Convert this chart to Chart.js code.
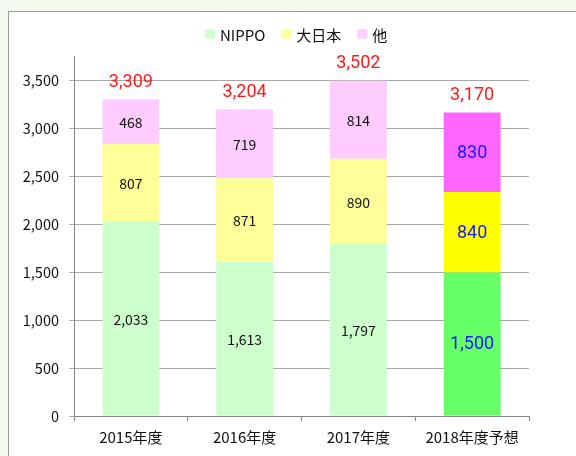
<!DOCTYPE html>
<html>
<head>
<meta charset="utf-8">
<script src="https://cdn.jsdelivr.net/npm/chart.js@4.4.1/dist/chart.umd.min.js"></script>
<style>
html,body{margin:0;padding:0;background:#fff;}
#wrap{width:576px;height:456px;position:relative;}
canvas{display:block;}
</style>
</head>
<body>
<div id="wrap"><canvas id="c" width="576" height="456"></canvas></div>
<script>
const categories = ["2015年度", "2016年度", "2017年度", "2018年度予想"];
const seriesNames = ["NIPPO", "大日本", "他"];
const nippo = [2033, 1613, 1797, 1500];
const dainippon = [807, 871, 890, 840];
const others = [468, 719, 814, 830];
const totals = [3309, 3204, 3502, 3170];
const yTicks = [0, 500, 1000, 1500, 2000, 2500, 3000, 3500];

const baseColors = ["#CCFFCC", "#FFFF99", "#FFCCFF"];
const forecastColors = ["#66FF66", "#FFFF00", "#FF66FF"];
const seriesValues = [nippo, dainippon, others];

const FONT = "'Noto Sans CJK JP', 'Noto Sans', sans-serif";

const datasets = seriesValues.map((vals, i) => ({
  label: seriesNames[i],
  data: vals,
  backgroundColor: vals.map((v, j) => j === categories.length - 1 ? forecastColors[i] : baseColors[i]),
  borderWidth: 0,
  barPercentage: 0.5,
  categoryPercentage: 1.0
}));

const bgPlugin = {
  id: 'bg',
  beforeDraw(chart) {
    const ctx = chart.ctx;
    ctx.save();
    ctx.fillStyle = '#F4F9EF';
    ctx.fillRect(0, 0, 576, 456);
    ctx.fillStyle = '#FFFFFF';
    ctx.fillRect(9, 12, 576, 456);
    ctx.strokeStyle = '#9A9A9A';
    ctx.lineWidth = 1;
    ctx.beginPath();
    ctx.moveTo(8.5, 456);
    ctx.lineTo(8.5, 11.5);
    ctx.lineTo(576, 11.5);
    ctx.stroke();
    ctx.restore();
  }
};

const labelPlugin = {
  id: 'labels',
  afterDatasetsDraw(chart) {
    const ctx = chart.ctx;
    const last = categories.length - 1;
    ctx.save();
    ctx.textAlign = 'center';
    ctx.textBaseline = 'middle';
    chart.data.datasets.forEach((ds, di) => {
      const meta = chart.getDatasetMeta(di);
      meta.data.forEach((bar, j) => {
        const v = ds.data[j];
        const cy = (bar.y + bar.base) / 2;
        if (j === last) {
          ctx.fillStyle = '#1A1AFF';
          ctx.font = "18px Roboto, sans-serif";
        } else {
          ctx.fillStyle = '#111111';
          ctx.font = "14px " + FONT;
        }
        ctx.fillText(v.toLocaleString('en-US'), bar.x, cy + 1);
      });
    });
    // totals
    const yScale = chart.scales.y;
    const meta0 = chart.getDatasetMeta(0);
    categories.forEach((c, j) => {
      const stackTop = nippo[j] + dainippon[j] + others[j];
      const y = yScale.getPixelForValue(stackTop) - 17;
      ctx.fillStyle = '#FF1A1A';
      ctx.font = "18px Roboto, sans-serif";
      ctx.fillText(totals[j].toLocaleString('en-US'), meta0.data[j].x, y);
    });
    // legend
    ctx.textAlign = 'left';
    ctx.font = "15px " + FONT;
    let x = 205;
    const ly = 34;
    seriesNames.forEach((n, i) => {
      ctx.fillStyle = baseColors[i];
      ctx.fillRect(x, ly - 4.5, 10, 9);
      ctx.fillStyle = '#111111';
      ctx.fillText(n, x + 15, ly + 1);
      x += 15 + ctx.measureText(n).width + 16;
    });
    ctx.restore();
  }
};

new Chart(document.getElementById('c'), {
  type: 'bar',
  data: { labels: categories, datasets: datasets },
  options: {
    responsive: false,
    animation: false,
    devicePixelRatio: 1,
    layout: { padding: { top: 56, right: 47, left: 0, bottom: 0 } },
    plugins: { legend: { display: false }, tooltip: { enabled: false } },
    scales: {
      x: {
        stacked: true,
        grid: { offset: true, drawOnChartArea: false, drawTicks: true, tickLength: 5, color: '#868686' },
        border: { color: '#868686' },
        ticks: { color: '#111', font: { family: FONT, size: 15 }, padding: 7 },
        afterFit(s) { s.height = 40; }
      },
      y: {
        stacked: true,
        min: 0,
        max: 3760,
        afterBuildTicks(s) { s.ticks = yTicks.map(v => ({ value: v })); },
        grid: { color: '#A8A8A8', tickLength: 5, drawTicks: true },
        border: { color: '#868686' },
        ticks: {
          color: '#111',
          font: { family: FONT, size: 14.5 },
          padding: 10,
          callback: v => v.toLocaleString('en-US')
        },
        afterFit(s) { s.width = 74; }
      }
    }
  },
  plugins: [bgPlugin, labelPlugin]
});
</script>
</body>
</html>
